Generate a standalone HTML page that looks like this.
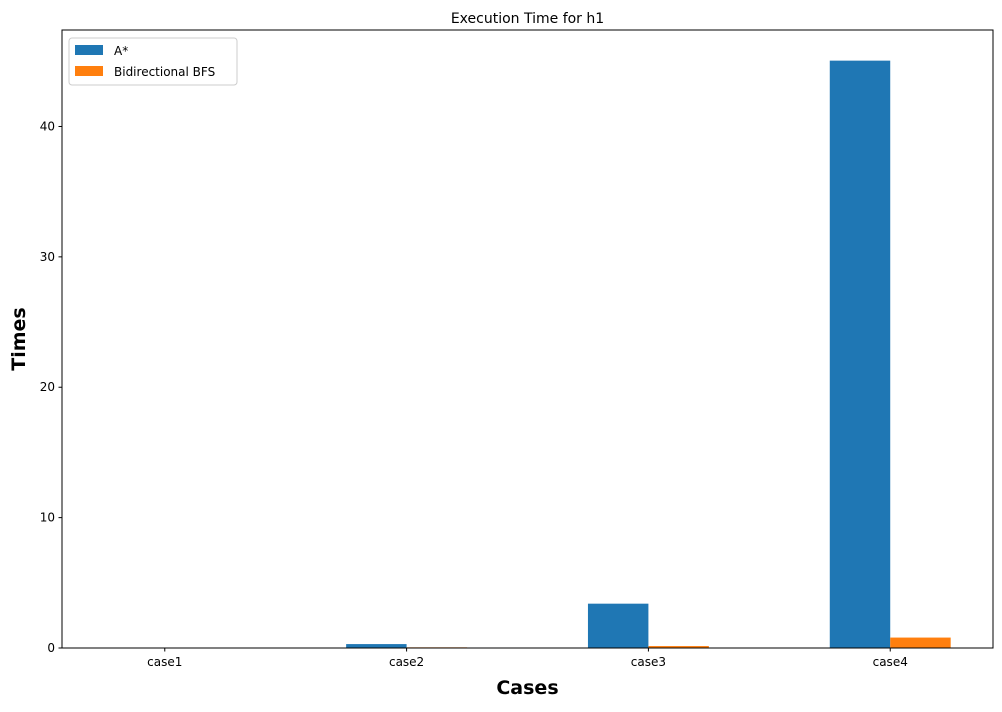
<!DOCTYPE html>
<html><head><meta charset="utf-8"><style>
body{margin:0;background:#fff;font-family:"Liberation Sans","DejaVu Sans",sans-serif;}
svg text{font-family:"DejaVu Sans","Liberation Sans",sans-serif;}
</style></head><body>
<svg id="chart" width="1002" height="707" xmlns="http://www.w3.org/2000/svg"></svg>
<script>
const categories=["case1","case2","case3","case4"];
const seriesNames=["A*","Bidirectional BFS"];
const astarValues=[0.01,0.3,3.4,45.05];
const bfsValues=[0.01,0.05,0.15,0.8];
const yTicks=[0,10,20,30,40];
const colors=["#1f77b4","#ff7f0e"];
const L=62,R=993,T=30,B=648;
const xMin=-0.425,xMax=3.425,yMin=0,yMax=47.4;
const sx=v=>L+(v-xMin)/(xMax-xMin)*(R-L);
const sy=v=>B-(v-yMin)/(yMax-yMin)*(B-T);
const svg=document.getElementById('chart');
const NS="http://www.w3.org/2000/svg";
function mk(tag,attrs,txt){const e=document.createElementNS(NS,tag);for(const k in attrs)e.setAttribute(k,attrs[k]);if(txt!==undefined)e.textContent=txt;svg.appendChild(e);return e;}
const w=0.25;
[astarValues,bfsValues].forEach((vals,si)=>{
 vals.forEach((v,i)=>{
  const x0=sx(i-w+si*w),x1=sx(i+si*w);
  const r=mk('rect',{x:x0,y:sy(v),width:x1-x0,height:sy(0)-sy(v),fill:colors[si]});
  
  
 });
});
const frame=mk('rect',{x:L,y:T,width:R-L,height:B-T,fill:'none',stroke:'#000','stroke-width':1});


yTicks.forEach(t=>{
 const y=sy(t);
 mk('line',{x1:L-3.5,x2:L,y1:y,y2:y,stroke:'#000'});
 const tx=mk('text',{x:L-7,y:y+4,'text-anchor':'end','font-size':12},t);
 
 
});
categories.forEach((c,i)=>{
 const x=sx(i);
 mk('line',{x1:x,x2:x,y1:B,y2:B+3.5,stroke:'#000'});
 const tx=mk('text',{x:x,y:B+18,'text-anchor':'middle','font-size':12},c);
 
 
});
let e=mk('text',{x:(L+R)/2,y:23,'text-anchor':'middle','font-size':14},'Execution Time for h1');

e=mk('text',{x:(L+R)/2,y:694,'text-anchor':'middle','font-size':19,'font-weight':'bold'},'Cases');

e=mk('text',{x:25,y:(T+B)/2,'text-anchor':'middle','font-size':19,'font-weight':'bold',transform:'rotate(-90 25 '+((T+B)/2)+')'},'Times');

e=mk('rect',{x:69,y:38,width:168,height:47,rx:3,fill:'#fff',stroke:'#ccc'});

seriesNames.forEach((n,i)=>{
 const y=45+i*21;
 mk('rect',{x:75,y:y,width:28,height:10,fill:colors[i]});
 const t=mk('text',{x:114,y:y+10,'font-size':12},n);
 
 
});
</script>
</body></html>
